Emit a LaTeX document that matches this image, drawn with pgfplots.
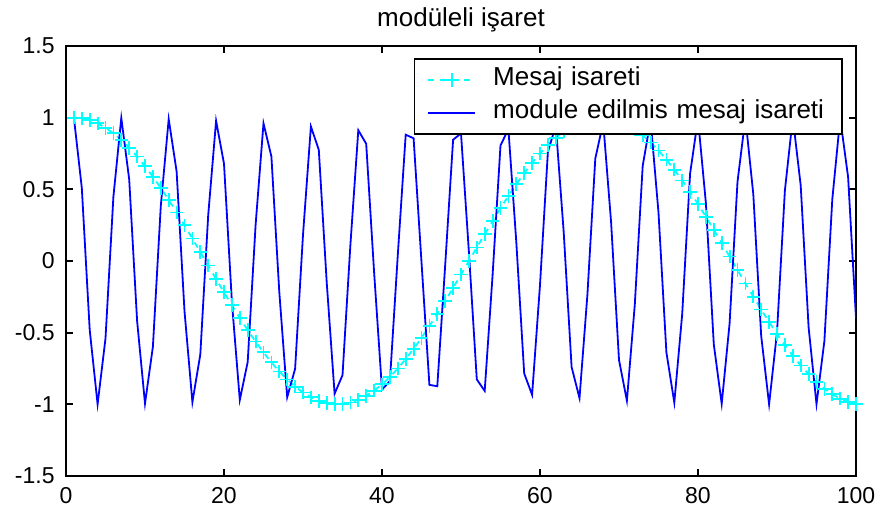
\documentclass[border=0pt]{standalone}
\usepackage{fontspec}
\setmainfont{Liberation Sans}
\usepackage{pgfplots}
\usepackage{pgfplotstable}
\pgfplotsset{compat=1.18}
\definecolor{mcyan}{RGB}{0,255,255}
\definecolor{mblue}{RGB}{0,0,255}
\pgfplotstableread{
x m s
1 1.0000 1.0000
2 0.9956 0.5103
3 0.9823 -0.4800
4 0.9603 -0.9994
5 0.9298 -0.5401
6 0.8910 0.4483
7 0.8443 0.9975
8 0.7902 0.5694
9 0.7290 -0.4167
10 0.6613 -0.9944
11 0.5878 -0.5978
12 0.5090 0.3844
13 0.4258 0.9901
14 0.3387 0.6258
15 0.2487 -0.3495
16 0.1564 -0.9846
17 0.0628 -0.6527
18 -0.0314 0.3185
19 -0.1253 0.9778
20 -0.2181 0.6790
21 -0.3090 -0.2850
22 -0.3972 -0.9698
23 -0.4818 -0.7044
24 -0.5621 0.2511
25 -0.6374 0.9606
26 -0.7071 0.7290
27 -0.7705 -0.2169
28 -0.8271 -0.9503
29 -0.8763 -0.7526
30 -0.9178 0.1825
31 -0.9511 0.9387
32 -0.9759 0.7753
33 -0.9921 -0.1478
34 -0.9995 -0.9260
35 -0.9980 -0.7971
36 -0.9877 0.1129
37 -0.9686 0.9122
38 -0.9409 0.8178
39 -0.9048 -0.0778
40 -0.8607 -0.8972
41 -0.8090 -0.8375
42 -0.7501 0.0427
43 -0.6846 0.8811
44 -0.6129 0.8562
45 -0.5358 -0.0075
46 -0.4540 -0.8639
47 -0.3681 -0.8739
48 -0.2790 -0.0276
49 -0.1874 0.8457
50 -0.0941 0.8905
51 0.0000 0.0628
52 0.0941 -0.8263
53 0.1874 -0.9059
54 0.2790 -0.0978
55 0.3681 0.8061
56 0.4540 0.9202
57 0.5358 0.1328
58 0.6129 -0.7847
59 0.6846 -0.9334
60 0.7501 -0.1676
61 0.8090 0.7624
62 0.8607 0.9455
63 0.9048 0.2022
64 0.9409 -0.7392
65 0.9686 -0.9563
66 0.9877 -0.2365
67 0.9980 0.7150
68 0.9995 0.9660
69 0.9921 0.2706
70 0.9759 -0.6900
71 0.9511 -0.9745
72 0.9178 -0.3042
73 0.8763 0.6641
74 0.8271 0.9818
75 0.7705 0.3375
76 0.7071 -0.6373
77 0.6374 -0.9879
78 0.5621 -0.3704
79 0.4818 0.6099
80 0.3972 0.9927
81 0.3090 0.4029
82 0.2181 -0.5817
83 0.1253 -0.9964
84 0.0314 -0.4349
85 -0.0628 0.5528
86 -0.1564 0.9987
87 -0.2487 0.4663
88 -0.3387 -0.5231
89 -0.4258 -0.9999
90 -0.5090 -0.4971
91 -0.5878 0.4927
92 -0.6613 0.9998
93 -0.7290 0.5273
94 -0.7902 -0.4618
95 -0.8443 -0.9985
96 -0.8910 -0.5570
97 -0.9298 0.4303
98 -0.9603 0.9959
99 -0.9823 0.5858
100 -0.9956 -0.3983
}\datatable
\begin{document}
\begin{tikzpicture}
\begin{axis}[
  scale only axis, width=395pt, height=215pt,
  xmin=0, xmax=100, ymin=-1.5, ymax=1.5,
  xtick={0,20,40,60,80,100},
  xticklabels={0,20,40,60,80,100},
  ytick={-1.5,-1,-0.5,0,0.5,1,1.5},
  yticklabels={-1.5,-1,-0.5,0,0.5,1,1.5},
  tick align=inside,
  major tick length=3.5pt,
  axis line style={line width=0.9pt},
  every tick/.style={black, line width=0.9pt},
  tick label style={font=\fontsize{11.5}{13}\selectfont, inner sep=0pt},
  xticklabel style={yshift=-5.5pt},
  yticklabel style={xshift=-5.5pt},
  every axis title shift=0pt,
  title={modüleli işaret},
  title style={font=\fontsize{13}{15}\selectfont, at={(0.5,1)}, anchor=base, yshift=10pt, inner sep=0pt},
  legend style={at={(1,1)}, anchor=north east, xshift=-6.5pt, yshift=-6pt,
    draw=black, line width=0.8pt, fill=white,
    inner xsep=6.5pt, inner ysep=4.5pt, row sep=4.5pt, column sep=8.5pt,
    font=\fontsize{13}{15}\selectfont,
    nodes={inner sep=0pt, text height=9pt, text depth=3pt, text width=168pt, align=left}},
  legend cell align=left,
  legend image code/.code={
    \draw[mark repeat=2,mark phase=2,#1] plot coordinates {(0pt,0pt) (11.75pt,0pt) (23.5pt,0pt)};
  },
]
\coordinate (sw) at (rel axis cs:0,0);
\addplot[mcyan, line width=0.9pt, dash pattern=on 3pt off 3pt, mark=+, mark size=3.4pt, mark options={solid}] table[x=x, y=m] {\datatable};
\addlegendentry{Mesaj isareti}
\addplot[mblue, line width=0.9pt] table[x=x, y=s] {\datatable};
\addlegendentry{module edilmis mesaj isareti}
\end{axis}
\path (sw) ++(-33pt,-20pt) rectangle ++(440pt,258pt);
\end{tikzpicture}
\end{document}
